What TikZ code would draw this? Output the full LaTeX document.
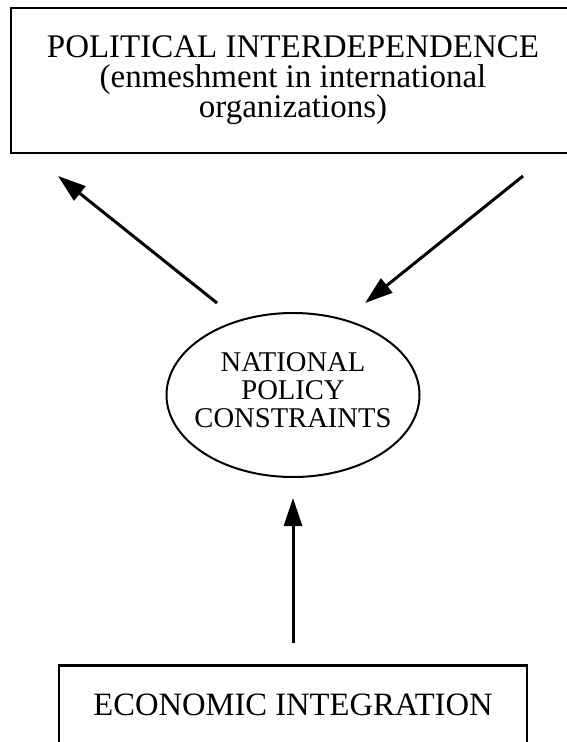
\documentclass[tikz,border=0pt]{standalone}
\usepackage{fontspec}
\setmainfont{Liberation Serif}
\usetikzlibrary{arrows.meta,shapes.geometric}
\begin{document}
\begin{tikzpicture}[x=0.5pt,y=-0.5pt,
  boxnode/.style={draw, line width=1.3pt, inner sep=0pt},
  bigtext/.style={align=center, font=\fontsize{16.5}{15}\selectfont},
  smalltext/.style={align=center, inner sep=0pt, font=\fontsize{14.3}{14}\selectfont},
  ellnode/.style={draw, ellipse, line width=1pt, inner sep=0pt},
  arr/.style={line width=1.5pt, -{Triangle[length=14pt,width=9pt]}}
]
\useasboundingbox (0,0) rectangle (566,742);
% top box (extends past the right edge)
\node[boxnode, bigtext, minimum width=282pt, minimum height=72.5pt] (pol) at (293,80.5)
  {POLITICAL INTERDEPENDENCE\\(enmeshment in international\\organizations)};
% ellipse
\node[ellnode, minimum width=126.5pt, minimum height=82pt] (ell) at (293,395) {};
\node[smalltext] (elltxt) at (293,390) {NATIONAL\\POLICY\\CONSTRAINTS};
% bottom box (extends past the bottom edge)
\node[boxnode, anchor=north, minimum width=234pt, inner ysep=14.5pt, text depth=30pt,
  font=\fontsize{16.3}{16}\selectfont] (eco) at (293,664) {ECONOMIC INTEGRATION};
% arrows
\coordinate (l1) at (217,303);
\coordinate (l2) at (58,176);
\coordinate (r1) at (523,176);
\coordinate (r2) at (365,303);
\draw[arr] (l1) -- (l2);
\draw[arr] (r1) -- (r2);
\draw[arr, shorten <=10.5pt, shorten >=10pt] (eco.north) -- (ell.south);
\end{tikzpicture}
\end{document}
